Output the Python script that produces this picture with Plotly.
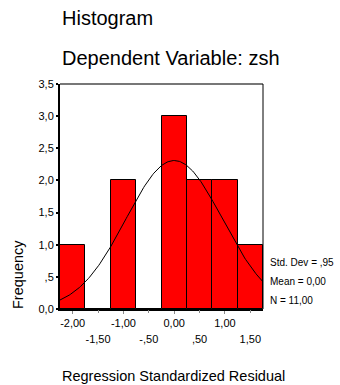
import numpy as np
import plotly.graph_objects as go

# ---- data ----
bin_centers = [-2.0, -1.5, -1.0, -0.5, 0.0, 0.5, 1.0, 1.5]
frequencies = [1, 0, 2, 0, 3, 2, 2, 1]
bin_width = 0.5
stat_mean = 0.0
stat_std = 0.95
stat_n = 11

x_ticks_upper = [-2.0, -1.0, 0.0, 1.0]
x_labels_upper = ["-2,00", "-1,00", "0,00", "1,00"]
x_ticks_lower = [-1.5, -0.5, 0.5, 1.5]
x_labels_lower = ["-1,50", "-,50", ",50", "1,50"]
y_ticks = [0, 0.5, 1.0, 1.5, 2.0, 2.5, 3.0, 3.5]
y_labels = ["0,0", ",5", "1,0", "1,5", "2,0", "2,5", "3,0", "3,5"]
stats_text = ["Std. Dev = ,95", "Mean = 0,00", "N = 11,00"]

# normal curve defined by the reported mean / std / N
xr = (bin_centers[0] - bin_width / 2, bin_centers[-1] + bin_width / 2)
cx = np.linspace(xr[0], xr[1], 200)
cy = stat_n * bin_width / (stat_std * np.sqrt(2 * np.pi)) * np.exp(-0.5 * ((cx - stat_mean) / stat_std) ** 2)

FONT = "Liberation Sans, Arial, sans-serif"

fig = go.Figure()
fig.add_trace(go.Bar(
    x=bin_centers, y=frequencies, width=bin_width,
    marker=dict(color="#FF0000", line=dict(color="black", width=1)),
    showlegend=False, hoverinfo="skip"))
fig.add_trace(go.Scatter(
    x=cx, y=cy, mode="lines", xaxis="x2", yaxis="y",
    line=dict(color="black", width=1), showlegend=False, hoverinfo="skip"))

W, H = 340, 385
L, R, T, B = 60, 77, 84, 76

fig.update_layout(
    width=W, height=H,
    margin=dict(l=L, r=R, t=T, b=B),
    paper_bgcolor="white", plot_bgcolor="white",
    font=dict(family=FONT, size=11, color="black"),
    bargap=0,
    xaxis=dict(range=list(xr), tickvals=x_ticks_upper, ticktext=x_labels_upper,
               showgrid=False, zeroline=False, showline=True, linecolor="black", linewidth=2,
               ticks="outside", ticklen=3, tickwidth=1, tickcolor="#888",
               tickfont=dict(size=11, family=FONT)),
    xaxis2=dict(range=list(xr), overlaying="x", side="bottom", anchor="y",
                tickvals=x_ticks_lower, ticktext=x_labels_lower,
                showgrid=False, zeroline=False, showline=False,
                ticks="outside", ticklen=3, tickwidth=1, tickcolor="#888",
                ticklabelstandoff=17,
                tickfont=dict(size=11, family=FONT)),
    yaxis=dict(range=[0, 3.5], tickvals=y_ticks, ticktext=y_labels,
               showgrid=False, zeroline=False, showline=True, linecolor="black", linewidth=2,
               ticks="outside", ticklen=2, tickwidth=2, tickcolor="black",
               tickfont=dict(size=11, family=FONT)),
    shapes=[
        dict(type="line", xref="paper", yref="paper", x0=0, x1=1, y0=1, y1=1,
             line=dict(color="#777", width=2)),
        dict(type="line", xref="paper", yref="paper", x0=1, x1=1, y0=0, y1=1,
             line=dict(color="black", width=1)),
    ],
)

pw = W - L - R
ph = H - T - B
def px(xp):
    return (xp - L) / pw
def py(yp):
    return (H - B - yp) / ph

ann = [
    dict(text="Histogram", x=px(60), y=py(18), xanchor="left", yanchor="middle",
         font=dict(size=20)),
    dict(text="Dependent Variable: zsh", x=px(60), y=py(58), xanchor="left", yanchor="middle",
         font=dict(size=20)),
    dict(text="Frequency", x=px(18), y=py(275), xanchor="center", yanchor="middle",
         textangle=-90, font=dict(size=14.5)),
    dict(text="Regression Standardized Residual", x=px(60), y=py(376), xanchor="left",
         yanchor="middle", font=dict(size=14.5)),
]
for i, t in enumerate(stats_text):
    ann.append(dict(text=t, x=px(268), y=py(262 + 19 * i), xanchor="left", yanchor="middle",
                    font=dict(size=10)))
for a in ann:
    a.update(xref="paper", yref="paper", showarrow=False)
    a["font"]["family"] = FONT
    a["font"]["color"] = "black"
fig.update_layout(annotations=ann)

fig.write_html("out.html")
